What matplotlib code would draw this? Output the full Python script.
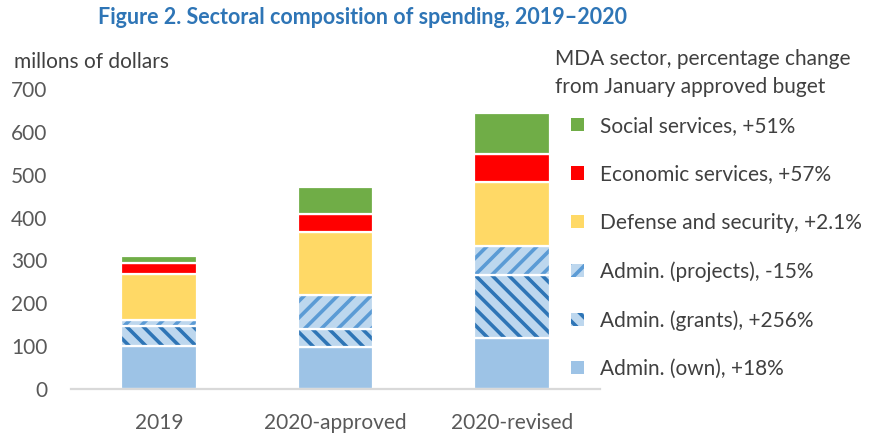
import matplotlib
matplotlib.use('Agg')
import matplotlib.pyplot as plt
import numpy as np

# ---- data ----
categories = ['2019', '2020-approved', '2020-revised']
admin_own = [101, 99, 118]
admin_grants = [45, 42, 148]
admin_projects = [15, 79, 67]
defense = [108, 147, 150]
economic = [25, 42, 66]
social = [17, 63, 96]
series_labels = ['Admin. (own), +18%', 'Admin. (grants), +256%', 'Admin. (projects), -15%',
                 'Defense and security, +2.1%', 'Economic services, +57%', 'Social services, +51%']
yticks = [0, 100, 200, 300, 400, 500, 600, 700]

plt.rcParams['font.family'] = ['Lato', 'DejaVu Sans']
plt.rcParams['hatch.linewidth'] = 2.6

fig = plt.figure(figsize=(8.75, 4.34), dpi=100)
ax = fig.add_axes([71/875, 1-389/434, (600-71)/875, (389-89)/434])

styles = [
    ('#9DC3E6', None, None),
    ('#BDD7EE', '\\\\', '#2E75B6'),
    ('#BDD7EE', '//', '#5B9BD5'),
    ('#FFD966', None, None),
    ('#FF0000', None, None),
    ('#70AD47', None, None),
]
data = [admin_own, admin_grants, admin_projects, defense, economic, social]

x = np.arange(len(categories))
width = 0.43
bottom = np.zeros(len(categories))
handles = []
for vals, lab, (fc, hatch, hc) in zip(data, series_labels, styles):
    vals = np.array(vals, dtype=float)
    b = ax.bar(x, vals, width, bottom=bottom, color=fc,
               edgecolor=hc if hatch else fc, linewidth=0, hatch=hatch, label=lab)
    ax.bar(x, vals, width, bottom=bottom, fill=False, edgecolor='white', linewidth=1.6)
    handles.append(b)
    bottom += vals

ax.set_xlim(-0.5, 2.5)
ax.set_ylim(0, 700)
ax.set_yticks(yticks)
ax.set_xticks(x)
ax.set_xticklabels(categories)
for s in ['top', 'right', 'left']:
    ax.spines[s].set_visible(False)
ax.spines['bottom'].set_color('#D9D9D9')
ax.spines['bottom'].set_linewidth(1.6)
ax.tick_params(axis='y', length=0, pad=17, labelsize=15, labelcolor='#595959')
ax.tick_params(axis='x', length=0, pad=17, labelsize=15, labelcolor='#595959')

leg = fig.legend(handles[::-1], series_labels[::-1], loc='upper left',
                 bbox_to_anchor=(571/875, 1-116/434), frameon=False, fontsize=15,
                 handlelength=0.6, handleheight=0.6, handletextpad=0.8,
                 labelspacing=1.36, borderpad=0, borderaxespad=0)
for t in leg.get_texts():
    t.set_color('#404040')

fig.text(555/875, 1-73/434, 'MDA sector, percentage change\nfrom January approved buget',
         fontsize=15, color='#404040', va='center', ha='left', linespacing=1.45)
fig.text(14/875, 1-62/434, 'millons of dollars', fontsize=15, color='#404040',
         va='center', ha='left')
fig.text(363/875, 1-18/434, 'Figure 2. Sectoral composition of spending, 2019\u20132020',
         fontsize=15.5, fontweight='bold', color='#2E75B6', ha='center', va='center')

fig.savefig('out.png', dpi=100)
